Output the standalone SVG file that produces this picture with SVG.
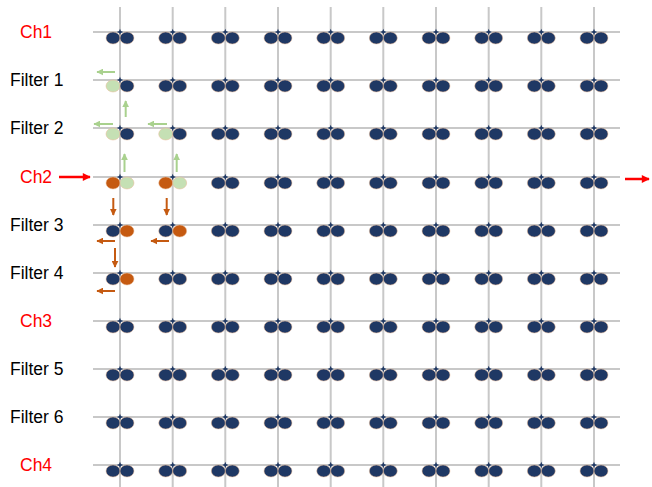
<svg xmlns="http://www.w3.org/2000/svg" xmlns:xlink="http://www.w3.org/1999/xlink" width="652" height="487" viewBox="0 0 652 487">
<style>
.grid{stroke:#c8c8c8;stroke-width:2;fill:none}
.lbl{font-family:"Liberation Sans",Arial,sans-serif;font-size:17.5px;fill:#000}
.ch{fill:#ff0000}
.d{fill:#1f3864;stroke:#e9b894;stroke-width:0.5}
.g{fill:#c5e0b4;stroke:#e9b894;stroke-width:0.5}
.o{fill:#c55a11;stroke:#e9b894;stroke-width:0.5}
.st{fill:#1f3864}
.ga{stroke:#a9d18e;stroke-width:2;fill:none;marker-end:url(#mg)}
.oa{stroke:#c55a11;stroke-width:2;fill:none;marker-end:url(#mo)}
.ra{stroke:#ff0000;stroke-width:2.5;fill:none;marker-end:url(#mr)}
</style>
<defs>
<marker id="mg" viewBox="0 0 10 10" refX="9" refY="5" markerWidth="3.5" markerHeight="3.5" orient="auto" markerUnits="strokeWidth"><path d="M0,0L10,5L0,10z" fill="#a9d18e"/></marker>
<marker id="mo" viewBox="0 0 10 10" refX="9" refY="5" markerWidth="3.5" markerHeight="3.5" orient="auto" markerUnits="strokeWidth"><path d="M0,0L10,5L0,10z" fill="#c55a11"/></marker>
<marker id="mr" viewBox="0 0 10 10" refX="9" refY="5" markerWidth="4" markerHeight="3.2" orient="auto" markerUnits="strokeWidth"><path d="M0,0L10,5L0,10z" fill="#ff0000"/></marker>
<path id="star" class="st" d="M0,-3.2L0.9,-0.9L3.2,0L0.9,0.9L0,3.2L-0.9,0.9L-3.2,0L-0.9,-0.9Z"/>
<g id="dd"><ellipse class="d" cx="-7" cy="6" rx="7" ry="6"/><ellipse class="d" cx="7" cy="6" rx="7" ry="6"/><use xlink:href="#star"/></g>
<g id="gd"><ellipse class="g" cx="-7" cy="6" rx="7" ry="6"/><ellipse class="d" cx="7" cy="6" rx="7" ry="6"/><use xlink:href="#star"/></g>
<g id="og"><ellipse class="o" cx="-7" cy="6" rx="7" ry="6"/><ellipse class="g" cx="7" cy="6" rx="7" ry="6"/><use xlink:href="#star"/></g>
<g id="do"><ellipse class="d" cx="-7" cy="6" rx="7" ry="6"/><ellipse class="o" cx="7" cy="6" rx="7" ry="6"/><use xlink:href="#star"/></g>
<g id="row"><use xlink:href="#dd" x="225.3"/><use xlink:href="#dd" x="278"/><use xlink:href="#dd" x="330.7"/><use xlink:href="#dd" x="383.3"/><use xlink:href="#dd" x="436"/><use xlink:href="#dd" x="488.7"/><use xlink:href="#dd" x="541.3"/><use xlink:href="#dd" x="594"/></g>
</defs>
<g id="grid">
<path class="grid" d="M93,32H620M93,80H620M93,128H620M93,177H620M93,225H620M93,273H620M93,321H620M93,369H620M93,417H620M93,465H620"/>
<path class="grid" d="M120,7V487M172.7,7V487M225.3,7V487M278,7V487M330.7,7V487M383.3,7V487M436,7V487M488.7,7V487M541.3,7V487M594,7V487"/>
</g>
<g id="labels">
<text class="lbl ch" x="20" y="38">Ch1</text>
<text class="lbl" x="10" y="86">Filter 1</text>
<text class="lbl" x="10" y="134">Filter 2</text>
<text class="lbl ch" x="20" y="183">Ch2</text>
<text class="lbl" x="10" y="231">Filter 3</text>
<text class="lbl" x="10" y="279">Filter 4</text>
<text class="lbl ch" x="20" y="327">Ch3</text>
<text class="lbl" x="10" y="375">Filter 5</text>
<text class="lbl" x="10" y="423">Filter 6</text>
<text class="lbl ch" x="20" y="471">Ch4</text>
</g>
<g id="row-ch1" transform="translate(0,32)"><use xlink:href="#dd" x="120"/><use xlink:href="#dd" x="172.7"/><use xlink:href="#row"/></g>
<g id="row-filter1" transform="translate(0,80)"><use xlink:href="#gd" x="120"/><use xlink:href="#dd" x="172.7"/><use xlink:href="#row"/></g>
<g id="row-filter2" transform="translate(0,128)"><use xlink:href="#gd" x="120"/><use xlink:href="#gd" x="172.7"/><use xlink:href="#row"/></g>
<g id="row-ch2" transform="translate(0,177)"><use xlink:href="#og" x="120"/><use xlink:href="#og" x="172.7"/><use xlink:href="#row"/></g>
<g id="row-filter3" transform="translate(0,225)"><use xlink:href="#do" x="120"/><use xlink:href="#do" x="172.7"/><use xlink:href="#row"/></g>
<g id="row-filter4" transform="translate(0,273)"><use xlink:href="#do" x="120"/><use xlink:href="#dd" x="172.7"/><use xlink:href="#row"/></g>
<g id="row-ch3" transform="translate(0,321)"><use xlink:href="#dd" x="120"/><use xlink:href="#dd" x="172.7"/><use xlink:href="#row"/></g>
<g id="row-filter5" transform="translate(0,369)"><use xlink:href="#dd" x="120"/><use xlink:href="#dd" x="172.7"/><use xlink:href="#row"/></g>
<g id="row-filter6" transform="translate(0,417)"><use xlink:href="#dd" x="120"/><use xlink:href="#dd" x="172.7"/><use xlink:href="#row"/></g>
<g id="row-ch4" transform="translate(0,465)"><use xlink:href="#dd" x="120"/><use xlink:href="#dd" x="172.7"/><use xlink:href="#row"/></g>
<g id="connectors">
<path class="ra" d="M59,177H90"/>
<path class="ra" d="M625,179H649"/>
<path class="ga" d="M115,72H97"/>
<path class="ga" d="M125.7,117V101"/>
<path class="ga" d="M113,124H94"/>
<path class="ga" d="M167,124H148"/>
<path class="ga" d="M124.5,172V154"/>
<path class="ga" d="M176.7,172V154"/>
<path class="oa" d="M113.3,198V215"/>
<path class="oa" d="M166.7,198V215"/>
<path class="oa" d="M115,241H97"/>
<path class="oa" d="M169,241H151"/>
<path class="oa" d="M115,248V267"/>
<path class="oa" d="M115,291H97"/>
</g>
</svg>
